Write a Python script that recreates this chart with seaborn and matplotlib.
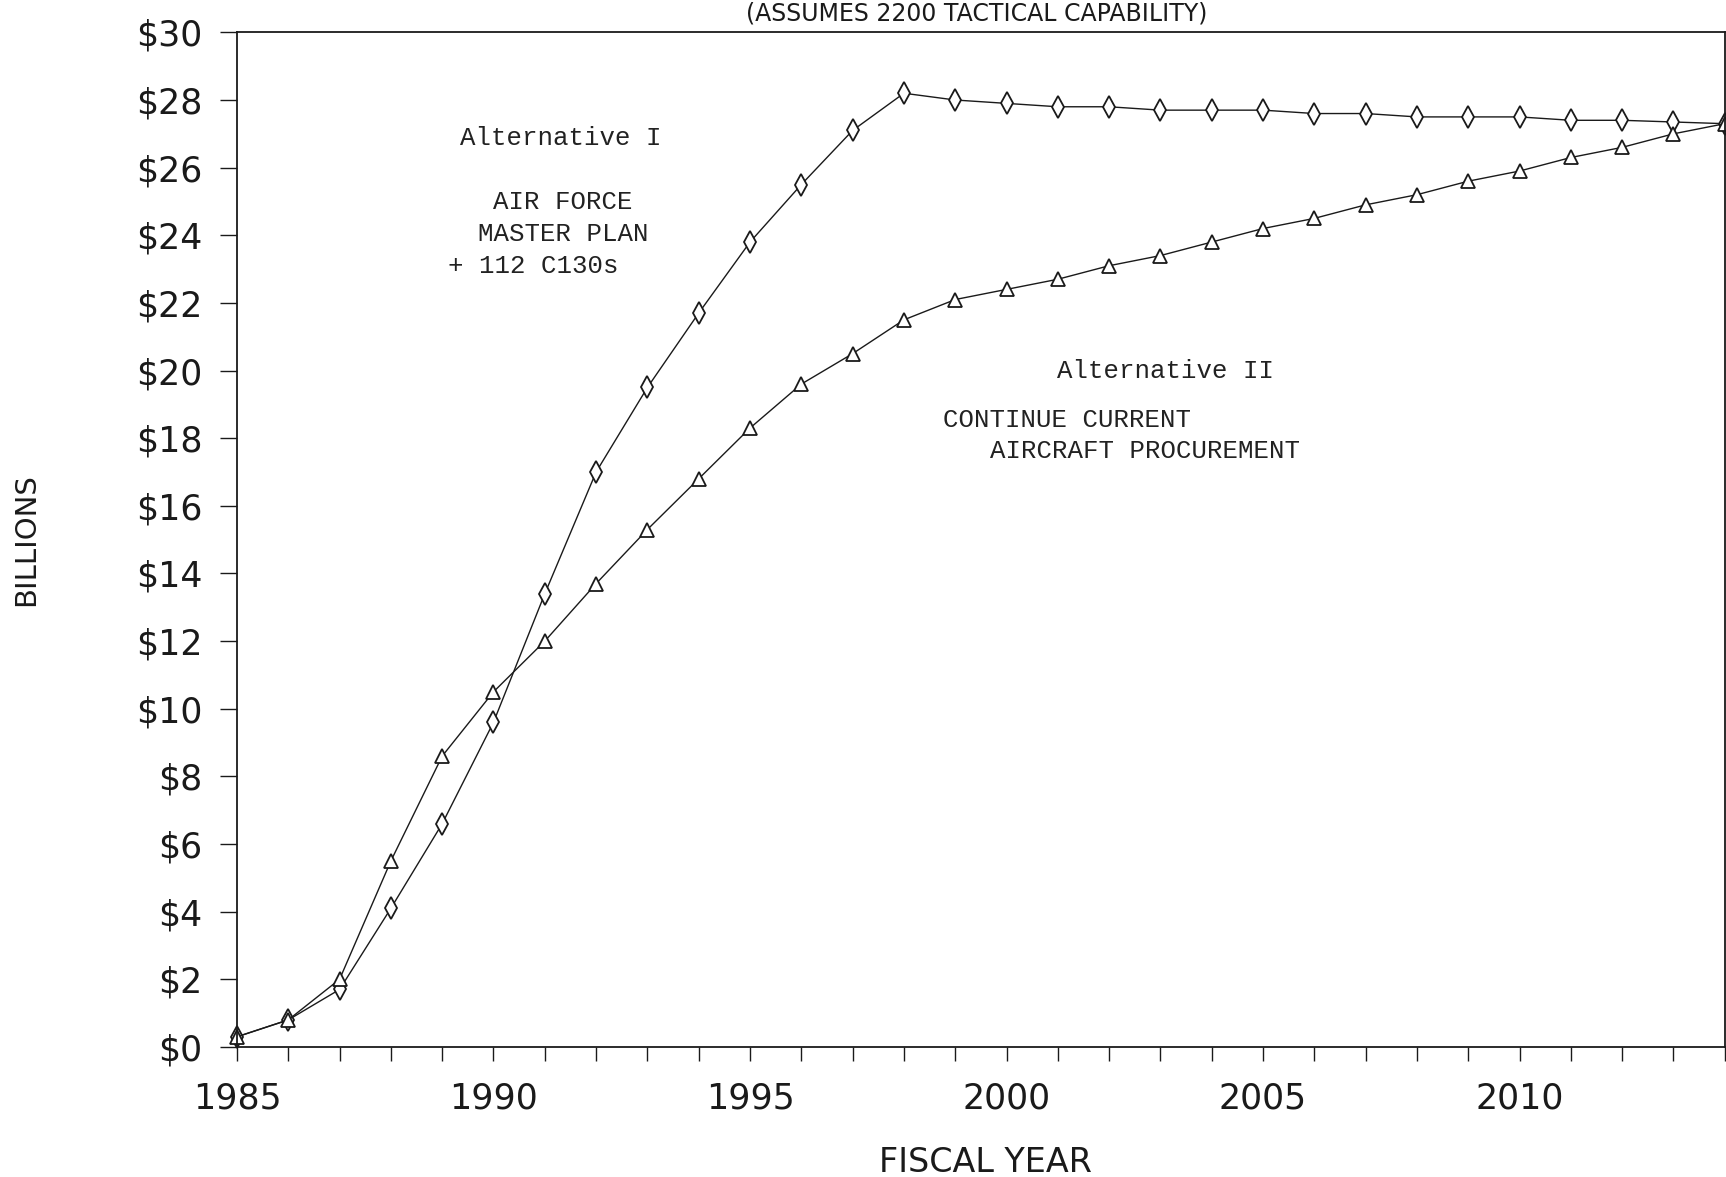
import pandas as pd
import seaborn as sns
import matplotlib.pyplot as plt
from matplotlib.ticker import MultipleLocator, FuncFormatter

# fiscal years and cumulative cost (billions of dollars)
years = list(range(1985, 2015))
alt1 = [0.3, 0.8, 1.7, 4.1, 6.6, 9.6, 13.4, 17.0, 19.5, 21.7, 23.8, 25.5, 27.1, 28.2, 28.0,
        27.9, 27.8, 27.8, 27.7, 27.7, 27.7, 27.6, 27.6, 27.5, 27.5, 27.5, 27.4, 27.4, 27.35, 27.3]
alt2 = [0.3, 0.8, 2.0, 5.5, 8.6, 10.5, 12.0, 13.7, 15.3, 16.8, 18.3, 19.6, 20.5, 21.5, 22.1,
        22.4, 22.7, 23.1, 23.4, 23.8, 24.2, 24.5, 24.9, 25.2, 25.6, 25.9, 26.3, 26.6, 27.0, 27.3]

title = "(ASSUMES 2200 TACTICAL CAPABILITY)"

sns.set_style("ticks")
plt.rcParams['font.family'] = ['DejaVu Sans']

fig = plt.figure(figsize=(17.26, 11.77), dpi=100)
ax = fig.add_axes([0.1373, 0.1105, 0.862, 0.862])

ink = "#1a1a1a"
sns.lineplot(x=years, y=alt1, ax=ax, color=ink, linewidth=1.0, marker="d",
             markersize=11, markerfacecolor="white", markeredgecolor=ink,
             markeredgewidth=1.3, clip_on=False)
sns.lineplot(x=years, y=alt2, ax=ax, color=ink, linewidth=1.0, marker="^",
             markersize=10, markerfacecolor="white", markeredgecolor=ink,
             markeredgewidth=1.3, clip_on=False)

ax.set_xlim(1985, 2014)
ax.set_ylim(0, 30)
ax.xaxis.set_major_locator(MultipleLocator(5))
ax.xaxis.set_minor_locator(MultipleLocator(1))
ax.yaxis.set_major_locator(MultipleLocator(2))
ax.yaxis.set_major_formatter(FuncFormatter(lambda v, p: r"\$%d" % v))

for s in ax.spines.values():
    s.set_visible(True)
    s.set_color(ink)
    s.set_linewidth(1.3)

ax.tick_params(axis="y", which="major", length=12, width=1.0, pad=13,
               labelsize=25, colors=ink)
ax.tick_params(axis="x", which="both", length=10, width=1.0, pad=15,
               labelsize=25, colors=ink)

ax.set_xlabel("FISCAL YEAR", fontsize=24, color=ink)
ax.set_ylabel("BILLIONS", fontsize=21, color=ink)
ax.xaxis.set_label_coords(0.503, -0.0975)
ax.yaxis.set_label_coords(-0.1325, 0.5)

note = dict(family=["Liberation Mono", "DejaVu Sans Mono"], fontsize=18.5,
            color="#222222", va="center", ha="left")
ax.text(1989.35, 26.87, "Alternative I", **note)
ax.text(1989.99, 24.98, "AIR FORCE", **note)
ax.text(1989.70, 24.04, "MASTER PLAN", **note)
ax.text(1989.11, 23.09, "+ 112 C130s", **note)
ax.text(2000.99, 20.0, "Alternative II", **note)
ax.text(1998.77, 18.53, "CONTINUE CURRENT", **note)
ax.text(1999.68, 17.62, "AIRCRAFT PROCUREMENT", **note)

# title sits in the narrow strip above the plot
fig.text(0.566, 0.999, title, fontsize=17, color=ink, ha="center", va="top")

plt.savefig("out.png", dpi=100)
